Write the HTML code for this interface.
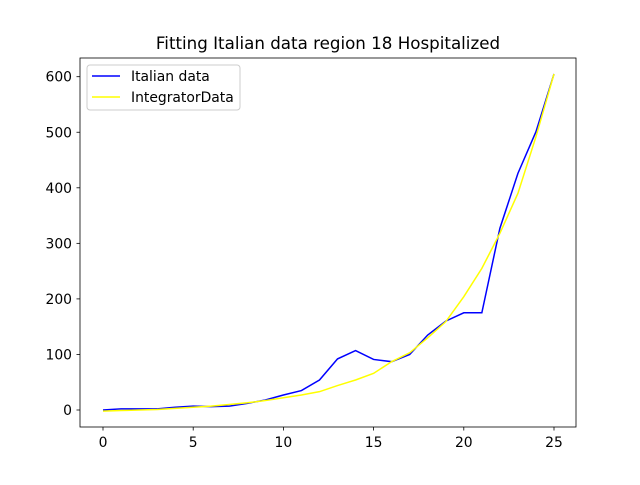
<!DOCTYPE html>
<html><head><meta charset="utf-8"><style>
body{margin:0;background:#fff}
svg text{font-family:"DejaVu Sans","Liberation Sans",sans-serif;fill:#000}
</style></head><body>
<svg width="640" height="480" id="c">
<rect width="640" height="480" fill="#fff"/>
<text x="328" y="49" text-anchor="middle" font-size="16.7">Fitting Italian data region 18 Hospitalized</text>
<g id="plot"></g>
<rect x="80" y="58" width="496" height="369" fill="none" stroke="#000" stroke-width="0.8"/>
<g>
<rect x="87" y="65" width="153" height="45" rx="3" fill="#fff" fill-opacity="0.8" stroke="#ccc"/>
<line x1="92" y1="76" x2="120" y2="76" stroke="#0000ff" stroke-width="1.5"/>
<text x="131" y="81" font-size="13.9">Italian data</text>
<line x1="92" y1="97" x2="120" y2="97" stroke="#ffff00" stroke-width="1.5"/>
<text x="131" y="102" font-size="13.9">IntegratorData</text>
</g>
</svg>
<script>
const days=[0,1,2,3,4,5,6,7,8,9,10,11,12,13,14,15,16,17,18,19,20,21,22,23,24,25];
const italian=[0,2,2,2,5,7,6,7,12,18,27,35,54,92,107,91,87,100,135,160,175,175,327,426,501,605];
const integrator=[-2,-1,0,1,3,5,7,10,13,17,22,27,33,44,54,66,87,103,130,159,204,255,318,390,492,605];
const xTicks=[0,5,10,15,20,25];
const yTicks=[0,100,200,300,400,500,600];
const sx=v=>103+v*18.04;
const sy=v=>410-v*0.5555;
const NS="http://www.w3.org/2000/svg";
const g=document.getElementById('plot');
function mk(t,a){const e=document.createElementNS(NS,t);for(const k in a)e.setAttribute(k,a[k]);g.appendChild(e);return e;}
xTicks.forEach(t=>{
 const l=mk('line',{x1:sx(t),x2:sx(t),y1:427,y2:430.5,stroke:'#000','stroke-width':0.8});
 
 
 const tx=mk('text',{x:sx(t),y:447,'text-anchor':'middle','font-size':13.9});
 tx.textContent=t;
 
 
});
yTicks.forEach(t=>{
 const l=mk('line',{x1:76.5,x2:80,y1:sy(t),y2:sy(t),stroke:'#000','stroke-width':0.8});
 
 
 const tx=mk('text',{x:72,y:sy(t)+5,'text-anchor':'end','font-size':13.9});
 tx.textContent=t;
 
 
});
const p1=mk('polyline',{points:days.map((d,i)=>sx(d)+','+sy(italian[i])).join(' '),fill:'none',stroke:'#0000ff','stroke-width':1.5});


const p2=mk('polyline',{points:days.map((d,i)=>sx(d)+','+sy(integrator[i])).join(' '),fill:'none',stroke:'#ffff00','stroke-width':1.5});


</script>
</body></html>
